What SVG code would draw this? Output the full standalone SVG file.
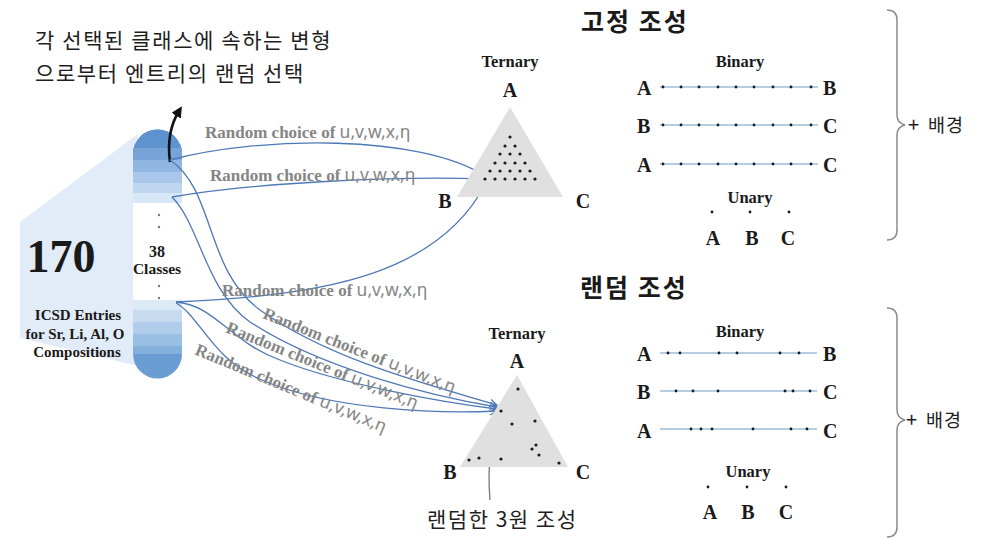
<svg xmlns="http://www.w3.org/2000/svg" width="999" height="539" viewBox="0 0 999 539">
<defs>
<style>
.kr{font-family:"Noto Sans CJK KR","Noto Sans",sans-serif;fill:#1e1e1e}
.krb{font-family:"Noto Sans CJK KR","Noto Sans",sans-serif;fill:#1a1a1a;font-weight:bold}
.sb{font-family:"Liberation Serif","Times New Roman",serif;font-weight:bold;fill:#1a1a1a}
.lbl{font-family:"Liberation Serif","Times New Roman",serif;font-weight:bold;fill:#858585;font-size:17px}
.lbl tspan{font-family:"Noto Sans","Liberation Sans",sans-serif;font-weight:normal;font-size:17.5px}
.con{fill:none;stroke:#4f78b6;stroke-width:1.3}
.bl{stroke:#9dbcd8;stroke-width:1.3}
.dot{fill:#1a1a1a}
.brace{fill:none;stroke:#8a8a8a;stroke-width:1.5}
.t{font-size:16.5px}
.L{font-size:20px}
</style>
<marker id="ah" viewBox="0 0 10 10" refX="9" refY="5" markerWidth="9" markerHeight="9" markerUnits="userSpaceOnUse" orient="auto">
<path d="M1,1 L9,5 L1,9" fill="none" stroke="#4f78b6" stroke-width="1.4"/>
</marker>
<marker id="bk" viewBox="0 0 10 10" refX="5" refY="5" markerWidth="11" markerHeight="11" markerUnits="userSpaceOnUse" orient="auto">
<path d="M0,0 L10,5 L0,10 Z" fill="#111"/>
</marker>
</defs>
<rect width="999" height="539" fill="#ffffff"/>

<g id="caption">
<text class="kr" x="35" y="48" font-size="21" letter-spacing="1.6">각 선택된 클래스에 속하는 변형</text>
<text class="kr" x="35" y="81" font-size="21" letter-spacing="1.6">으로부터 엔트리의 랜덤 선택</text>
</g>

<g id="source">
<polygon points="138,134 20,222 20,338 138,366" fill="#e1ecf8"/>
<rect x="133" y="130" width="49" height="248" rx="24" fill="#ffffff"/>
<path d="M133,154 A24.5,24.5 0 0 1 182,154 L182,148 L133,148 Z" fill="#5e93cf"/>
<path d="M133,154 A24.5,24.5 0 0 1 182,154 Z" fill="#5e93cf"/>
<rect x="133" y="148" width="49" height="12" fill="#76a4d8"/>
<rect x="133" y="160" width="49" height="12" fill="#90b7e1"/>
<rect x="133" y="172" width="49" height="11" fill="#a8c7ea"/>
<rect x="133" y="183" width="49" height="10" fill="#bfd6ef"/>
<rect x="133" y="193" width="49" height="10" fill="#d8e7f6"/>
<rect x="133" y="300" width="49" height="10" fill="#dce9f6"/>
<rect x="133" y="310" width="49" height="12" fill="#c6dbf0"/>
<rect x="133" y="322" width="49" height="12" fill="#b0cdeb"/>
<rect x="133" y="334" width="49" height="12" fill="#9abfe5"/>
<rect x="133" y="346" width="49" height="8" fill="#84b0de"/>
<path d="M133,354 L182,354 A24.5,24.5 0 0 1 133,354 Z" fill="#6b9dd5"/>
<text class="sb" x="61" y="272" font-size="46" text-anchor="middle">170</text>
<text class="sb" x="78" y="320" font-size="15" text-anchor="middle">ICSD Entries</text>
<text class="sb" x="75" y="339" font-size="15" text-anchor="middle">for Sr, Li, Al, O</text>
<text class="sb" x="77" y="357" font-size="15" text-anchor="middle">Compositions</text>
<text class="sb" x="157" y="257" font-size="16" text-anchor="middle">38</text>
<text class="sb" x="157" y="274" font-size="15.5" text-anchor="middle">Classes</text>
<circle cx="159" cy="215" r="1.2" fill="#777"/>
<circle cx="159" cy="227" r="1.2" fill="#777"/>
<circle cx="159" cy="286" r="1.2" fill="#777"/>
<circle cx="159" cy="298" r="1.2" fill="#777"/>
</g>

<g id="connectors">
<path d="M170,162 C167,140 171,124 179,111" fill="none" stroke="#111" stroke-width="2.6" marker-end="url(#bk)"/>
<path class="con" d="M170,160 C260,136 420,134 485,176" marker-end="url(#ah)"/>
<path class="con" d="M172,197 C260,182 400,176 485,179" marker-end="url(#ah)"/>
<path class="con" d="M176,302 C330,296 440,272 486,183" marker-end="url(#ah)"/>
<path class="con" d="M170,160 C215,190 205,270 260,310 C330,360 430,385 497,405" marker-end="url(#ah)"/>
<path class="con" d="M172,197 C200,225 205,290 250,322 C320,368 430,396 497,407" marker-end="url(#ah)"/>
<path class="con" d="M176,302 C215,305 230,342 280,360 C340,384 440,402 497,409" marker-end="url(#ah)"/>
<path class="con" d="M176,303 C200,316 212,360 262,380 C330,410 440,414 497,411" marker-end="url(#ah)"/>
<path d="M490,500 Q486,450 499,413" fill="none" stroke="#777" stroke-width="1.3"/>
<text class="lbl" x="205" y="138">Random choice of <tspan>u,v,w,x,η</tspan></text>
<text class="lbl" x="210" y="181">Random choice of <tspan>u,v,w,x,η</tspan></text>
<text class="lbl" x="222" y="296">Random choice of <tspan>u,v,w,x,η</tspan></text>
<text class="lbl" x="262" y="318" transform="rotate(21.5 262 318)">Random choice of <tspan>u,v,w,x,η</tspan></text>
<text class="lbl" x="225" y="332" transform="rotate(22 225 332)">Random choice of <tspan>u,v,w,x,η</tspan></text>
<text class="lbl" x="194" y="354" transform="rotate(22.5 194 354)">Random choice of <tspan>u,v,w,x,η</tspan></text>
</g>

<g id="fixed-heading">
<text class="krb" x="581" y="31" font-size="25" letter-spacing="2">고정 조성</text>
</g>

<g id="fixed-ternary">
<text class="sb t" x="510" y="67" text-anchor="middle">Ternary</text>
<text class="sb L" x="510" y="97" text-anchor="middle">A</text>
<text class="sb L" x="445" y="208" text-anchor="middle">B</text>
<text class="sb L" x="583" y="208" text-anchor="middle">C</text>
<polygon points="510,107 457,197 563,197" fill="#e0e0e0"/>
<g class="dot">
<circle cx="510" cy="137" r="1.6"/>
<circle cx="505" cy="146" r="1.6"/><circle cx="515" cy="146" r="1.6"/>
<circle cx="500" cy="154" r="1.6"/><circle cx="510" cy="154" r="1.6"/><circle cx="520" cy="154" r="1.6"/>
<circle cx="495" cy="163" r="1.6"/><circle cx="505" cy="163" r="1.6"/><circle cx="515" cy="163" r="1.6"/><circle cx="525" cy="163" r="1.6"/>
<circle cx="490" cy="171" r="1.6"/><circle cx="500" cy="171" r="1.6"/><circle cx="510" cy="171" r="1.6"/><circle cx="520" cy="171" r="1.6"/><circle cx="530" cy="171" r="1.6"/>
<circle cx="485" cy="179" r="1.6"/><circle cx="495" cy="179" r="1.6"/><circle cx="505" cy="179" r="1.6"/><circle cx="515" cy="179" r="1.6"/><circle cx="525" cy="179" r="1.6"/><circle cx="535" cy="179" r="1.6"/>
</g>
</g>

<g id="fixed-binary">
<text class="sb t" x="740" y="67" text-anchor="middle">Binary</text>
<text class="sb L" x="637" y="95">A</text><text class="sb L" x="823" y="95">B</text>
<text class="sb L" x="637" y="133">B</text><text class="sb L" x="823" y="133">C</text>
<text class="sb L" x="637" y="172">A</text><text class="sb L" x="823" y="172">C</text>
<line class="bl" x1="660" y1="87" x2="818" y2="87"/>
<line class="bl" x1="660" y1="125" x2="818" y2="125"/>
<line class="bl" x1="660" y1="164" x2="818" y2="164"/>
<g class="dot">
<circle cx="663" cy="87" r="1.4"/><circle cx="681" cy="87" r="1.4"/><circle cx="699" cy="87" r="1.4"/><circle cx="718" cy="87" r="1.4"/><circle cx="736" cy="87" r="1.4"/><circle cx="754" cy="87" r="1.4"/><circle cx="773" cy="87" r="1.4"/><circle cx="791" cy="87" r="1.4"/><circle cx="811" cy="87" r="1.4"/>
<circle cx="663" cy="125" r="1.4"/><circle cx="681" cy="125" r="1.4"/><circle cx="699" cy="125" r="1.4"/><circle cx="718" cy="125" r="1.4"/><circle cx="736" cy="125" r="1.4"/><circle cx="754" cy="125" r="1.4"/><circle cx="773" cy="125" r="1.4"/><circle cx="791" cy="125" r="1.4"/><circle cx="811" cy="125" r="1.4"/>
<circle cx="663" cy="164" r="1.4"/><circle cx="681" cy="164" r="1.4"/><circle cx="699" cy="164" r="1.4"/><circle cx="718" cy="164" r="1.4"/><circle cx="736" cy="164" r="1.4"/><circle cx="754" cy="164" r="1.4"/><circle cx="773" cy="164" r="1.4"/><circle cx="791" cy="164" r="1.4"/><circle cx="811" cy="164" r="1.4"/>
</g>
</g>

<g id="fixed-unary">
<text class="sb t" x="750" y="203" text-anchor="middle">Unary</text>
<g class="dot"><circle cx="712" cy="212" r="1.4"/><circle cx="750" cy="212" r="1.4"/><circle cx="789" cy="212" r="1.4"/></g>
<text class="sb L" x="713" y="245" text-anchor="middle">A</text>
<text class="sb L" x="752" y="245" text-anchor="middle">B</text>
<text class="sb L" x="788" y="245" text-anchor="middle">C</text>
</g>

<g id="fixed-background">
<path class="brace" d="M887,10 Q897,10 897,20 L897,115 Q897,123 905,125 Q897,127 897,135 L897,230 Q897,240 887,240"/>
<text class="kr" x="908" y="132" font-size="20" fill="#555">+</text>
<text class="kr" x="928" y="132" font-size="18.5" letter-spacing="1">배경</text>
</g>

<g id="random-heading">
<text class="krb" x="580" y="297" font-size="25" letter-spacing="2">랜덤 조성</text>
</g>

<g id="random-ternary">
<text class="sb t" x="517" y="339" text-anchor="middle">Ternary</text>
<text class="sb L" x="517" y="368" text-anchor="middle">A</text>
<text class="sb L" x="450" y="479" text-anchor="middle">B</text>
<text class="sb L" x="583" y="479" text-anchor="middle">C</text>
<polygon points="517,375 460,467 568,467" fill="#e0e0e0"/>
<g class="dot">
<circle cx="518" cy="389" r="1.6"/><circle cx="501" cy="411" r="1.6"/><circle cx="535" cy="421" r="1.6"/><circle cx="512" cy="424" r="1.6"/>
<circle cx="536" cy="445" r="1.6"/><circle cx="532" cy="449" r="1.6"/><circle cx="539" cy="455" r="1.6"/><circle cx="469" cy="460" r="1.6"/>
<circle cx="479" cy="458" r="1.6"/><circle cx="501" cy="459" r="1.6"/><circle cx="559" cy="463" r="1.6"/>
</g>
<text class="kr" x="427" y="527" font-size="21" letter-spacing="1.5">랜덤한 3원 조성</text>
</g>

<g id="random-binary">
<text class="sb t" x="740" y="337" text-anchor="middle">Binary</text>
<text class="sb L" x="637" y="361">A</text><text class="sb L" x="823" y="361">B</text>
<text class="sb L" x="637" y="399">B</text><text class="sb L" x="823" y="399">C</text>
<text class="sb L" x="637" y="438">A</text><text class="sb L" x="823" y="438">C</text>
<line class="bl" x1="660" y1="353" x2="817" y2="353"/>
<line class="bl" x1="660" y1="391" x2="817" y2="391"/>
<line class="bl" x1="660" y1="429" x2="817" y2="429"/>
<g class="dot">
<circle cx="668" cy="353" r="1.4"/><circle cx="680" cy="353" r="1.4"/><circle cx="719" cy="353" r="1.4"/><circle cx="737" cy="353" r="1.4"/><circle cx="780" cy="353" r="1.4"/><circle cx="799" cy="353" r="1.4"/>
<circle cx="676" cy="391" r="1.4"/><circle cx="693" cy="391" r="1.4"/><circle cx="718" cy="391" r="1.4"/><circle cx="785" cy="391" r="1.4"/><circle cx="793" cy="391" r="1.4"/><circle cx="810" cy="391" r="1.4"/>
<circle cx="691" cy="429" r="1.4"/><circle cx="701" cy="429" r="1.4"/><circle cx="712" cy="429" r="1.4"/><circle cx="753" cy="429" r="1.4"/><circle cx="791" cy="429" r="1.4"/><circle cx="807" cy="429" r="1.4"/>
</g>
</g>

<g id="random-unary">
<text class="sb t" x="748" y="477" text-anchor="middle">Unary</text>
<g class="dot"><circle cx="708" cy="487" r="1.4"/><circle cx="747" cy="487" r="1.4"/><circle cx="786" cy="487" r="1.4"/></g>
<text class="sb L" x="710" y="519" text-anchor="middle">A</text>
<text class="sb L" x="748" y="519" text-anchor="middle">B</text>
<text class="sb L" x="786" y="519" text-anchor="middle">C</text>
</g>

<g id="random-background">
<path class="brace" d="M887,308 Q897,308 897,318 L897,410 Q897,418 905,420 Q897,422 897,430 L897,527 Q897,537 887,537"/>
<text class="kr" x="906" y="427" font-size="20" fill="#555">+</text>
<text class="kr" x="926" y="427" font-size="18.5" letter-spacing="1">배경</text>
</g>
</svg>
